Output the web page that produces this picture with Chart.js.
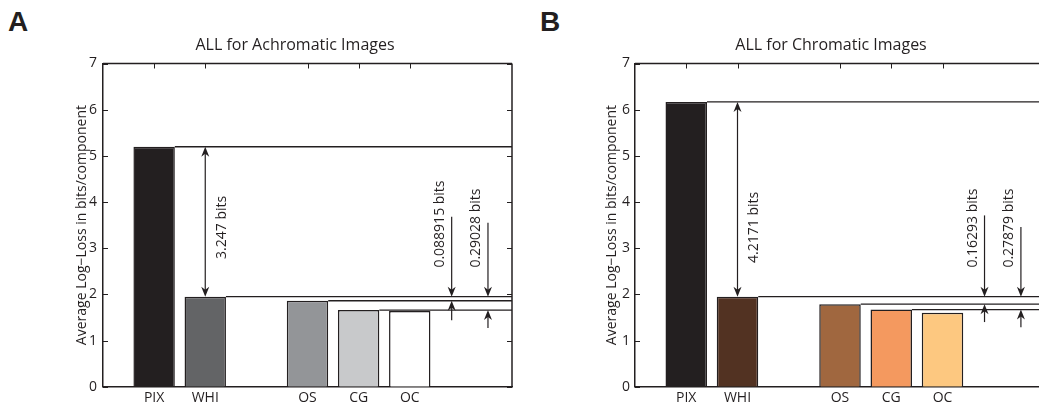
<!DOCTYPE html>
<html>
<head>
<meta charset="utf-8">
<script src="https://cdn.jsdelivr.net/npm/chart.js@4"></script>
<style>
  body { margin: 0; width: 1039px; height: 409px; overflow: hidden; background: #fff; position: relative; }
  .panel-letter { position: absolute; top: 6px; font: bold 28px "Liberation Sans", Arial, sans-serif; color: #231f20; line-height: normal; }
  #chartA { position: absolute; left: 0; top: 0; }
  #chartB { position: absolute; left: 520px; top: 0; }
</style>
</head>
<body>
<div class="panel-letter" style="left:8px">A</div>
<div class="panel-letter" style="left:540px">B</div>
<canvas id="chartA" width="520" height="409"></canvas>
<canvas id="chartB" width="533" height="409"></canvas>
<script>
const categories = ["", "PIX", "WHI", "", "OS", "CG", "OC", "", ""];
const yTicks = [0, 1, 2, 3, 4, 5, 6, 7];

const achromaticValues = [null, 5.197, 1.95, null, 1.861, 1.66, 1.64, null, null];
const chromaticValues = [null, 6.167, 1.95, null, 1.787, 1.671, 1.6, null, null];

const achromaticColors = ["#fff", "#231f20", "#636466", "#fff", "#939598", "#c8c9cb", "#ffffff", "#fff", "#fff"];
const chromaticColors = ["#fff", "#231f20", "#523222", "#fff", "#a0673f", "#f4995f", "#fdc880", "#fff", "#fff"];

const achromaticBigGap = { label: "3.247 bits", at: 2, upper: 1, lower: 2, labelY: 3.45 };
const chromaticBigGap = { label: "4.2171 bits", at: 2, upper: 1, lower: 2, labelY: 3.45 };

const achromaticSmallGaps = [
  { label: "0.088915 bits", at: 6.82, lower: 4, topStart: 3.68, bottomStart: 1.44 },
  { label: "0.29028 bits", at: 7.53, lower: 5, topStart: 3.55, bottomStart: 1.27 },
];
const chromaticSmallGaps = [
  { label: "0.16293 bits", at: 6.82, lower: 4, topStart: 3.71, bottomStart: 1.4 },
  { label: "0.27879 bits", at: 7.53, lower: 5, topStart: 3.46, bottomStart: 1.29 },
];

const levelLinesFrom = [1, 2, 4, 5];

const ink = "#231f20";
const fontFamily = '"Open Sans", sans-serif';

function segment(ctx, x1, y1, x2, y2) {
  ctx.beginPath();
  ctx.moveTo(x1, y1);
  ctx.lineTo(x2, y2);
  ctx.stroke();
}

// tip at (x, y); dir 1 points down, -1 points up
function arrowHead(ctx, x, y, dir) {
  ctx.beginPath();
  ctx.moveTo(x, y);
  ctx.lineTo(x - 4, y - dir * 10);
  ctx.lineTo(x, y - dir * 7);
  ctx.lineTo(x + 4, y - dir * 10);
  ctx.closePath();
  ctx.fill();
}

const matlabBox = {
  id: "matlabBox",
  beforeDatasetsDraw(chart) {
    const { ctx, chartArea: a, scales: { x, y } } = chart;
    ctx.save();
    ctx.strokeStyle = ink;
    ctx.lineWidth = 1;
    yTicks.forEach((v) => {
      const py = Math.round(y.getPixelForValue(v)) + 0.5;
      segment(ctx, a.left, py, a.left + 5, py);
      segment(ctx, a.right, py, a.right - 5, py);
    });
    categories.forEach((c, i) => {
      if (!c) return;
      const px = Math.round(x.getPixelForValue(i)) + 0.5;
      segment(ctx, px, a.top, px, a.top + 5);
      segment(ctx, px, a.bottom, px, a.bottom - 5);
    });
    ctx.restore();
  },
  afterDatasetsDraw(chart, args, opts) {
    const { ctx, chartArea: a, scales: { x, y } } = chart;
    const values = chart.data.datasets[0].data;
    const bars = chart.getDatasetMeta(0).data;
    ctx.save();
    ctx.strokeStyle = ink;
    ctx.fillStyle = ink;

    // top and right frame
    ctx.lineWidth = 1.5;
    segment(ctx, a.left, a.top, a.right, a.top);
    segment(ctx, a.right, a.top, a.right, a.bottom);

    // level lines from bar tops
    ctx.lineWidth = 1.3;
    levelLinesFrom.forEach((i) => {
      const py = y.getPixelForValue(values[i]);
      segment(ctx, bars[i].x + bars[i].width / 2, py, a.right, py);
    });

    // big double arrow
    ctx.lineWidth = 1.2;
    const big = opts.bigGap;
    const bx = x.getPixelForValue(big.at);
    const yUp = y.getPixelForValue(values[big.upper]);
    const yLow = y.getPixelForValue(values[big.lower]);
    segment(ctx, bx, yUp + 5, bx, yLow - 5);
    arrowHead(ctx, bx, yUp, -1);
    arrowHead(ctx, bx, yLow, 1);
    ctx.font = "14px " + fontFamily;
    ctx.save();
    ctx.translate(bx + 17, y.getPixelForValue(big.labelY));
    ctx.rotate(-Math.PI / 2);
    ctx.textAlign = "center";
    ctx.textBaseline = "middle";
    ctx.fillText(big.label, 0, 0);
    ctx.restore();

    // small gap arrows
    opts.smallGaps.forEach((g) => {
      const gx = x.getPixelForValue(g.at);
      const yTop = y.getPixelForValue(values[2]);
      const yBottom = y.getPixelForValue(values[g.lower]);
      segment(ctx, gx, y.getPixelForValue(g.topStart), gx, yTop - 5);
      arrowHead(ctx, gx, yTop, 1);
      segment(ctx, gx, y.getPixelForValue(g.bottomStart), gx, yBottom + 5);
      arrowHead(ctx, gx, yBottom, -1);
      ctx.save();
      ctx.translate(gx - 12, y.getPixelForValue(2.58));
      ctx.rotate(-Math.PI / 2);
      ctx.textAlign = "left";
      ctx.textBaseline = "middle";
      ctx.fillText(g.label, 0, 0);
      ctx.restore();
    });
    ctx.restore();
  },
};

function createPanel(canvasId, title, values, colors, bigGap, smallGaps, layout) {
  const ctx = document.getElementById(canvasId).getContext("2d");
  return new Chart(ctx, {
    type: "bar",
    data: {
      labels: categories,
      datasets: [
        {
          data: values,
          backgroundColor: colors,
          borderColor: ink,
          borderWidth: 1.5,
          barPercentage: 0.81,
          categoryPercentage: 1,
        },
      ],
    },
    options: {
      responsive: false,
      animation: false,
      devicePixelRatio: 1,
      layout: { padding: { left: layout.padLeft, right: 8, top: 0, bottom: 0 } },
      plugins: {
        legend: { display: false },
        tooltip: { enabled: false },
        title: {
          display: true,
          text: title,
          color: ink,
          font: { family: fontFamily, size: 16, weight: "normal" },
          padding: { top: 36, bottom: 8.3 },
        },
        matlabBox: { bigGap: bigGap, smallGaps: smallGaps },
      },
      scales: {
        x: {
          type: "category",
          offset: false,
          grid: { display: false, offset: false, drawTicks: false },
          border: { display: true, color: ink, width: 1.5 },
          ticks: {
            autoSkip: false,
            maxRotation: 0,
            padding: 3,
            color: ink,
            font: { family: fontFamily, size: 14 },
          },
          afterFit: (scale) => {
            scale.height = 22.3;
          },
        },
        y: {
          min: 0,
          max: 7,
          grid: { display: false, drawTicks: false },
          border: { display: true, color: ink, width: 1.5 },
          ticks: {
            stepSize: 1,
            padding: layout.tickPad,
            color: ink,
            font: { family: fontFamily, size: 14 },
          },
          title: {
            display: true,
            text: "Average Log\u2212Loss in bits/component",
            color: ink,
            font: { family: fontFamily, size: 14 },
            padding: { top: layout.titlePad, bottom: 4 },
          },
          afterFit: (scale) => {
            scale.width = layout.axisWidth;
          },
        },
      },
    },
    plugins: [matlabBox],
  });
}

createPanel("chartA", "ALL for Achromatic Images", achromaticValues, achromaticColors,
  achromaticBigGap, achromaticSmallGaps, { padLeft: 78, axisWidth: 25, titlePad: -4.4, tickPad: 6 });
createPanel("chartB", "ALL for Chromatic Images", chromaticValues, chromaticColors,
  chromaticBigGap, chromaticSmallGaps, { padLeft: 97, axisWidth: 18, titlePad: -13.4, tickPad: 5 });
</script>
</body>
</html>
